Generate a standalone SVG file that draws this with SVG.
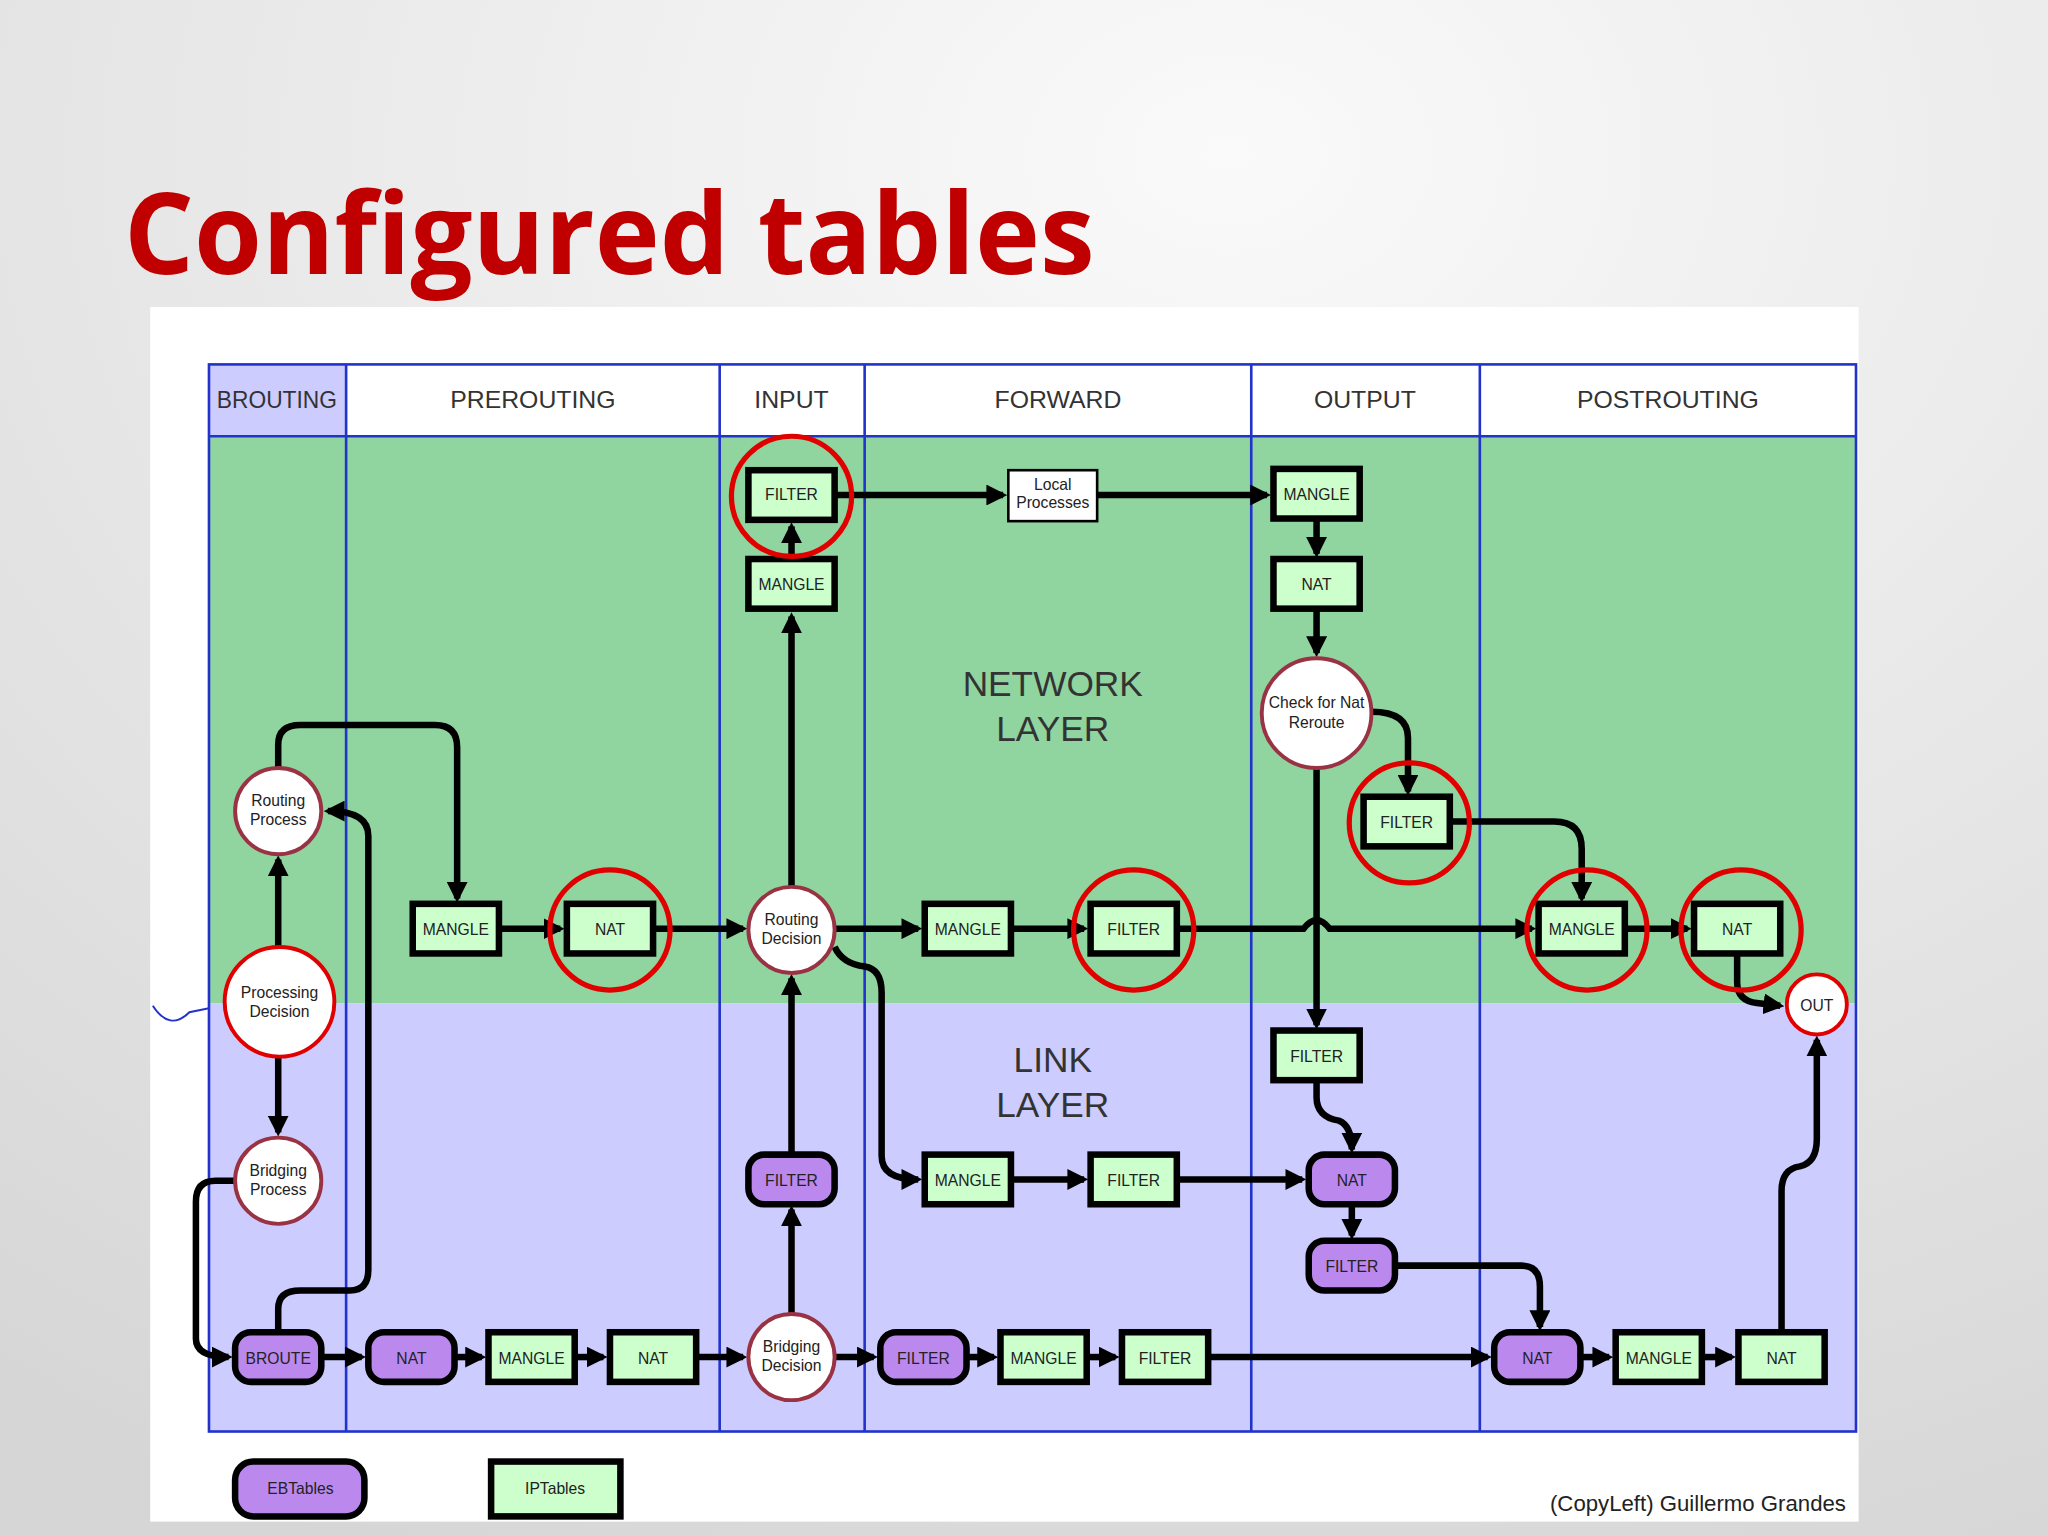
<svg xmlns="http://www.w3.org/2000/svg" width="2048" height="1536" viewBox="0 0 2048 1536">
<defs>
<radialGradient id="bg" cx="0.6" cy="0.1" r="1"><stop offset="0" stop-color="#fafafa"/><stop offset="1" stop-color="#d6d6d6"/></radialGradient>
<marker id="ah" viewBox="0 0 10 10" refX="8" refY="5" markerWidth="3.2" markerHeight="3.2" orient="auto"><path d="M0,0 L10,5 L0,10 z" fill="#000"/></marker>
<style>
.ip{fill:#ccffcc;stroke:#000;stroke-width:5}
.eb{fill:#bb88ee;stroke:#000;stroke-width:5}
.cir{fill:#fff;stroke:#993344;stroke-width:3}
.hl{fill:none;stroke:#e00000;stroke-width:4}
.t{font-family:"Liberation Sans",Arial,sans-serif;font-size:12px;fill:#222;text-anchor:middle}
.s{font-family:"Liberation Sans",Arial,sans-serif;font-size:12px;fill:#222;text-anchor:middle}
.h{font-family:"Liberation Sans",Arial,sans-serif;font-size:19px;fill:#333;text-anchor:middle}
.big{font-family:"Liberation Sans",Arial,sans-serif;font-size:27px;fill:#333;text-anchor:middle}
.c path,.c line{fill:none;stroke:#000;stroke-width:5;marker-end:url(#ah)}
.col{stroke:#2233cc;stroke-width:2}
</style>
</defs>
<rect width="2048" height="1536" fill="url(#bg)"/>
<g transform="scale(1.306122)">
<text x="95" y="210" font-family="'Open Sans','Noto Sans',sans-serif" font-weight="bold" font-size="86" fill="#c00000" textLength="743" lengthAdjust="spacingAndGlyphs">Configured tables</text>
<rect x="115" y="235" width="1308" height="930" fill="#fff"/>
<rect x="160" y="334" width="1261" height="434" fill="#90d4a0"/>
<rect x="160" y="768" width="1261" height="328" fill="#ccccff"/>
<rect x="160" y="279" width="105" height="55" fill="#ccccff"/>
<rect x="160" y="279" width="1261" height="817" fill="none" class="col"/>
<line x1="160" y1="334" x2="1421" y2="334" class="col"/>
<g class="col"><line x1="265" y1="279" x2="265" y2="1096"/><line x1="551" y1="279" x2="551" y2="1096"/><line x1="662" y1="279" x2="662" y2="1096"/><line x1="958" y1="279" x2="958" y2="1096"/><line x1="1133" y1="279" x2="1133" y2="1096"/></g>
<path d="M117,770 Q130,790 145,775 L160,772" fill="none" stroke="#2233cc" stroke-width="1.5"/>
<g class="h"><text x="212" y="312" textLength="92" lengthAdjust="spacingAndGlyphs">BROUTING</text><text x="408" y="312">PREROUTING</text><text x="606" y="312">INPUT</text><text x="810" y="312">FORWARD</text><text x="1045" y="312">OUTPUT</text><text x="1277" y="312">POSTROUTING</text></g>
<text class="big" x="806" y="533">NETWORK</text><text class="big" x="806" y="567">LAYER</text>
<text class="big" x="806" y="821">LINK</text><text class="big" x="806" y="855">LAYER</text>
<text x="1300" y="1157" font-family="'Liberation Sans',Arial,sans-serif" font-size="17" fill="#222" text-anchor="middle">(CopyLeft) Guillermo Grandes</text>

<g class="c" id="connectors">
<line x1="606" y1="679" x2="606" y2="472"/>
<line x1="606" y1="427" x2="606" y2="403"/>
<line x1="640" y1="379" x2="768" y2="379"/>
<line x1="840" y1="379" x2="970" y2="379"/>
<line x1="1008" y1="398" x2="1008" y2="424"/>
<line x1="1008" y1="467" x2="1008" y2="500"/>
<path d="M1050,545 Q1078,545 1078,565 L1078,606"/>
<line x1="1008" y1="588" x2="1008" y2="785"/>
<path d="M1111,629 L1190,629 Q1211,629 1211,650 L1211,688"/>
<path d="M213,588 L213,570 Q213,555 230,555 L333,555 Q350,555 350,572 L350,688"/>
<line x1="383" y1="711" x2="429" y2="711"/>
<line x1="501" y1="711" x2="569" y2="711"/>
<line x1="639" y1="711" x2="703" y2="711"/>
<line x1="775" y1="711" x2="830" y2="711"/>
<path d="M902,711 L998,711 Q1008,698 1018,711 L1173,711"/>
<line x1="1245" y1="711" x2="1292" y2="711"/>
<path d="M1330,731 L1330,752 Q1330,766 1345,768 L1363,770"/>
<path d="M639,725 Q645,738 662,740 Q675,742 675,760 L675,885 Q675,903 703,903"/>
<line x1="775" y1="903" x2="830" y2="903"/>
<line x1="902" y1="903" x2="997" y2="903"/>
<path d="M1008,828 L1008,840 Q1008,855 1025,858 Q1035,862 1035,880"/>
<line x1="1035" y1="922" x2="1035" y2="946"/>
<path d="M1069,969 L1165,969 Q1179,969 1179,985 L1179,1016"/>
<line x1="213" y1="725" x2="213" y2="658"/>
<line x1="213" y1="810" x2="213" y2="867"/>
<path d="M180,904 L165,904 Q150,904 150,920 L150,1025 Q150,1039 175,1039"/>
<path d="M213,1020 L213,1002 Q213,988 230,988 L268,988 Q282,988 282,972 L282,640 Q282,621 251,621"/>
<line x1="247" y1="1039" x2="277" y2="1039"/>
<line x1="349" y1="1039" x2="369" y2="1039"/>
<line x1="441" y1="1039" x2="462" y2="1039"/>
<line x1="534" y1="1039" x2="569" y2="1039"/>
<line x1="606" y1="1006" x2="606" y2="926"/>
<line x1="606" y1="884" x2="606" y2="749"/>
<line x1="639" y1="1039" x2="669" y2="1039"/>
<line x1="741" y1="1039" x2="761" y2="1039"/>
<line x1="833" y1="1039" x2="854" y2="1039"/>
<line x1="926" y1="1039" x2="1139" y2="1039"/>
<line x1="1211" y1="1039" x2="1232" y2="1039"/>
<line x1="1304" y1="1039" x2="1326" y2="1039"/>
<path d="M1364,1020 L1364,912 Q1364,895 1378,893 Q1391,890 1391,872 L1391,796"/>
</g>

<g id="ip-filter-in"><rect class="ip" x="573" y="360" width="66" height="38"/><text class="t" x="606" y="383">FILTER</text></g>
<g id="ip-mangle-in"><rect class="ip" x="573" y="428" width="66" height="38"/><text class="t" x="606" y="452">MANGLE</text></g>
<g id="local"><rect x="772" y="360" width="68" height="39" fill="#fff" stroke="#000" stroke-width="2"/><text class="s" x="806" y="375">Local</text><text class="s" x="806" y="389">Processes</text></g>
<g id="ip-mangle-out"><rect class="ip" x="975" y="359" width="66" height="38"/><text class="t" x="1008" y="383">MANGLE</text></g>
<g id="ip-nat-out"><rect class="ip" x="975" y="428" width="66" height="38"/><text class="t" x="1008" y="452">NAT</text></g>
<g id="ip-filter-out"><rect class="ip" x="1044" y="610" width="66" height="38"/><text class="t" x="1077" y="634">FILTER</text></g>
<g id="ip-mangle-pre"><rect class="ip" x="316" y="692" width="66" height="38"/><text class="t" x="349" y="716">MANGLE</text></g>
<g id="ip-nat-pre"><rect class="ip" x="434" y="692" width="66" height="38"/><text class="t" x="467" y="716">NAT</text></g>
<g id="ip-mangle-fw"><rect class="ip" x="708" y="692" width="66" height="38"/><text class="t" x="741" y="716">MANGLE</text></g>
<g id="ip-filter-fw"><rect class="ip" x="835" y="692" width="66" height="38"/><text class="t" x="868" y="716">FILTER</text></g>
<g id="ip-mangle-post"><rect class="ip" x="1178" y="692" width="66" height="38"/><text class="t" x="1211" y="716">MANGLE</text></g>
<g id="ip-nat-post"><rect class="ip" x="1297" y="692" width="66" height="38"/><text class="t" x="1330" y="716">NAT</text></g>
<g id="ip-filter-link-out"><rect class="ip" x="975" y="789" width="66" height="38"/><text class="t" x="1008" y="813">FILTER</text></g>
<g id="ip-mangle-link-fw"><rect class="ip" x="708" y="884" width="66" height="38"/><text class="t" x="741" y="908">MANGLE</text></g>
<g id="ip-filter-link-fw"><rect class="ip" x="835" y="884" width="66" height="38"/><text class="t" x="868" y="908">FILTER</text></g>
<g id="ip-mangle-b1"><rect class="ip" x="374" y="1020" width="66" height="38"/><text class="t" x="407" y="1044">MANGLE</text></g>
<g id="ip-nat-b1"><rect class="ip" x="467" y="1020" width="66" height="38"/><text class="t" x="500" y="1044">NAT</text></g>
<g id="ip-mangle-b2"><rect class="ip" x="766" y="1020" width="66" height="38"/><text class="t" x="799" y="1044">MANGLE</text></g>
<g id="ip-filter-b2"><rect class="ip" x="859" y="1020" width="66" height="38"/><text class="t" x="892" y="1044">FILTER</text></g>
<g id="ip-mangle-b3"><rect class="ip" x="1237" y="1020" width="66" height="38"/><text class="t" x="1270" y="1044">MANGLE</text></g>
<g id="ip-nat-b3"><rect class="ip" x="1331" y="1020" width="66" height="38"/><text class="t" x="1364" y="1044">NAT</text></g>
<g id="legend-ip"><rect class="ip" x="376" y="1119" width="99" height="42"/><text class="t" x="425" y="1144">IPTables</text></g>

<g id="eb-filter-in"><rect class="eb" x="573" y="884" width="66" height="38" rx="12"/><text class="t" x="606" y="908">FILTER</text></g>
<g id="eb-nat-out"><rect class="eb" x="1002" y="884" width="66" height="38" rx="12"/><text class="t" x="1035" y="908">NAT</text></g>
<g id="eb-filter-out"><rect class="eb" x="1002" y="950" width="66" height="38" rx="12"/><text class="t" x="1035" y="974">FILTER</text></g>
<g id="eb-broute"><rect class="eb" x="180" y="1020" width="66" height="38" rx="12"/><text class="t" x="213" y="1044">BROUTE</text></g>
<g id="eb-nat-pre"><rect class="eb" x="282" y="1020" width="66" height="38" rx="12"/><text class="t" x="315" y="1044">NAT</text></g>
<g id="eb-filter-fw"><rect class="eb" x="674" y="1020" width="66" height="38" rx="12"/><text class="t" x="707" y="1044">FILTER</text></g>
<g id="eb-nat-post"><rect class="eb" x="1144" y="1020" width="66" height="38" rx="12"/><text class="t" x="1177" y="1044">NAT</text></g>
<g id="legend-eb"><rect class="eb" x="180" y="1119" width="99" height="42" rx="14"/><text class="t" x="230" y="1144">EBTables</text></g>

<g id="routing-process"><circle class="cir" cx="213" cy="621" r="33"/><text class="s" x="213" y="617">Routing</text><text class="s" x="213" y="632">Process</text></g>
<g id="processing-decision"><circle cx="214" cy="767" r="42" fill="#fff" stroke="#e00000" stroke-width="3"/><text class="s" x="214" y="764">Processing</text><text class="s" x="214" y="779">Decision</text></g>
<g id="bridging-process"><circle class="cir" cx="213" cy="904" r="33"/><text class="s" x="213" y="900">Bridging</text><text class="s" x="213" y="915">Process</text></g>
<g id="routing-decision"><circle class="cir" cx="606" cy="712" r="33"/><text class="s" x="606" y="708">Routing</text><text class="s" x="606" y="723">Decision</text></g>
<g id="check-nat"><circle class="cir" cx="1008" cy="546" r="42"/><text class="s" x="1008" y="542">Check for Nat</text><text class="s" x="1008" y="557">Reroute</text></g>
<g id="bridging-decision"><circle class="cir" cx="606" cy="1039" r="33"/><text class="s" x="606" y="1035">Bridging</text><text class="s" x="606" y="1050">Decision</text></g>
<g id="out"><circle cx="1391" cy="769" r="23" fill="#fff" stroke="#e00000" stroke-width="3"/><text class="s" x="1391" y="774">OUT</text></g>

<g id="highlights">
<circle class="hl" cx="606" cy="380" r="46"/>
<circle class="hl" cx="467" cy="712" r="46"/>
<circle class="hl" cx="868" cy="712" r="46"/>
<circle class="hl" cx="1079" cy="630" r="46"/>
<circle class="hl" cx="1215" cy="712" r="46"/>
<circle class="hl" cx="1333" cy="712" r="46"/>
</g>
</g>
</svg>
